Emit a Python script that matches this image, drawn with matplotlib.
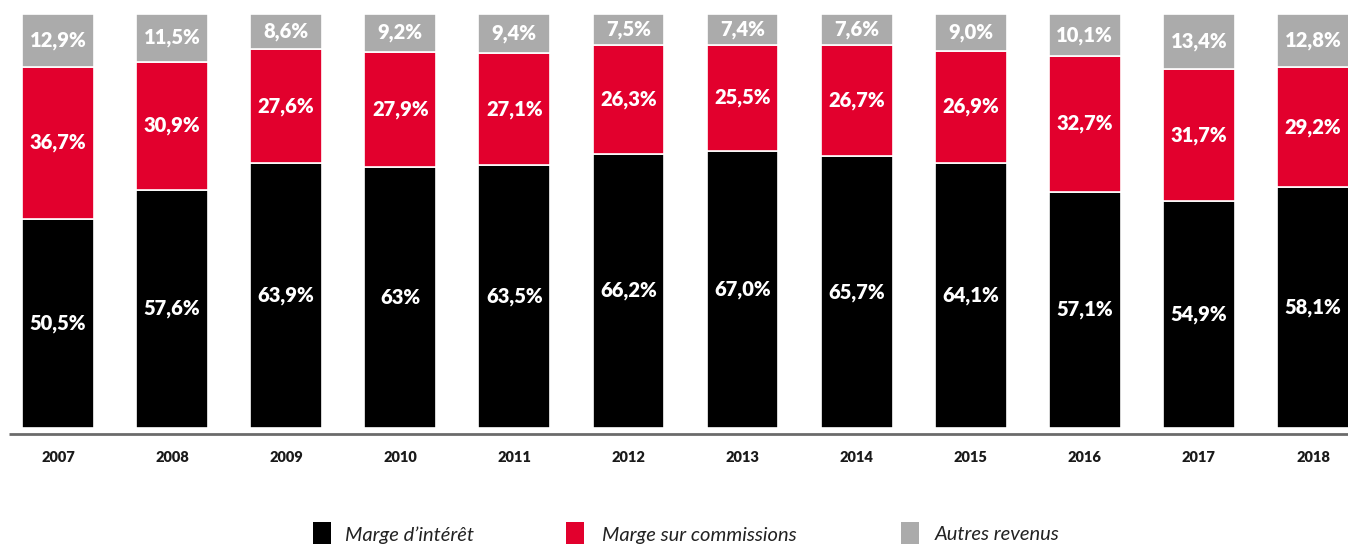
import matplotlib.pyplot as plt
from matplotlib.patches import Rectangle
import numpy as np

# Data
years = ["2007", "2008", "2009", "2010", "2011", "2012",
         "2013", "2014", "2015", "2016", "2017", "2018"]
marge_interet = [50.5, 57.6, 63.9, 63.0, 63.5, 66.2, 67.0, 65.7, 64.1, 57.1, 54.9, 58.1]
marge_commissions = [36.7, 30.9, 27.6, 27.9, 27.1, 26.3, 25.5, 26.7, 26.9, 32.7, 31.7, 29.2]
autres_revenus = [12.9, 11.5, 8.6, 9.2, 9.4, 7.5, 7.4, 7.6, 9.0, 10.1, 13.4, 12.8]
labels_interet = ["50,5%", "57,6%", "63,9%", "63%", "63,5%", "66,2%",
                  "67,0%", "65,7%", "64,1%", "57,1%", "54,9%", "58,1%"]
series_names = ["Marge d\u2019intérêt", "Marge sur commissions", "Autres revenus"]
colors = ["#000000", "#E2002D", "#ABABAB"]

plt.rcParams['font.family'] = ['Lato', 'DejaVu Sans']

W, H = 1348, 547
fig = plt.figure(figsize=(W / 100, H / 100), dpi=100)
# axes: y=0 at px 428, y=100 at px 14 -> 4.14 px per unit
ppu = 4.14
ymin, ymax = -3.0, 100.1
bottom_px = 428 + (-ymin) * ppu
top_px = 428 - ymax * ppu
ax = fig.add_axes([0, (H - bottom_px) / H, 1, (bottom_px - top_px) / H])
ax.set_ylim(ymin, ymax)
ax.set_xlim(-58 / 114.1, 11 + (W - 1313) / 114.1)
ax.axis('off')

x = np.arange(len(years))
m1 = np.array(marge_interet)
m2 = np.array(marge_commissions)
m3 = np.array(autres_revenus)
width = 0.63
kw = dict(width=width, edgecolor="white", linewidth=1.2)
ax.bar(x, m1, color=colors[0], **kw)
ax.bar(x, m2, bottom=m1, color=colors[1], **kw)
ax.bar(x, m3, bottom=m1 + m2, color=colors[2], **kw)

lab_kw = dict(ha="center", va="center", color="white", fontsize=14.5, fontweight="heavy")
for i in range(len(years)):
    ax.text(x[i], m1[i] / 2, labels_interet[i], **lab_kw)
    ax.text(x[i], m1[i] + m2[i] / 2, f"{m2[i]:.1f}%".replace(".", ","), **lab_kw)
    ax.text(x[i], m1[i] + m2[i] + m3[i] / 2, f"{m3[i]:.1f}%".replace(".", ","), **lab_kw)
    ax.text(x[i], -(457 - 428) / ppu, years[i], ha="center", va="center",
            fontsize=10.5, fontweight="heavy", color="#1a1a1a", clip_on=False)

# baseline
ax.plot([-0.43, 11.4], [-(434 - 428) / ppu] * 2, color="#6b6b6b", linewidth=2,
        clip_on=False, solid_capstyle="butt")

# legend
sw_x = [313, 566, 901]
txt_x = [345, 602, 935]
for name, col, sx, tx in zip(series_names, colors, sw_x, txt_x):
    fig.patches.append(Rectangle((sx / W, (H - 544) / H), 18 / W, 22 / H,
                                 transform=fig.transFigure, facecolor=col,
                                 edgecolor="none"))
    fig.text(tx / W, (H - 535) / H, name, ha="left", va="center",
             fontsize=14.5, fontstyle="italic", color="#222222")

fig.savefig("out.png", dpi=100)
